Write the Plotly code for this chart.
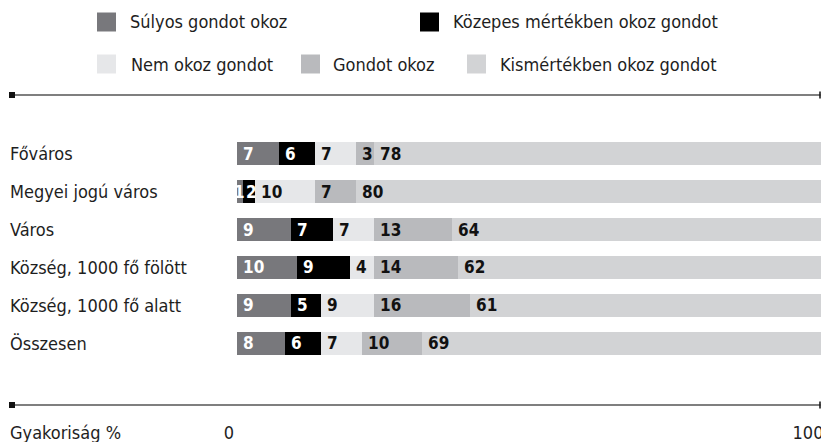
import plotly.graph_objects as go

categories = ["Főváros", "Megyei jogú város", "Város", "Község, 1000 fő fölött",
              "Község, 1000 fő alatt", "Összesen"]
series_names = ["Súlyos gondot okoz", "Közepes mértékben okoz gondot", "Nem okoz gondot",
                "Gondot okoz", "Kismértékben okoz gondot"]
sulyos = [7, 1, 9, 10, 9, 8]
kozepes = [6, 2, 7, 9, 5, 6]
nem_okoz = [7, 10, 7, 4, 9, 7]
gondot = [3, 7, 13, 14, 16, 10]
kismertek = [78, 80, 64, 62, 61, 69]
tick_values = [0, 100]
tick_labels = ["0", "100"]
axis_label = "Gyakoriság %"

series_values = [sulyos, kozepes, nem_okoz, gondot, kismertek]
colors = ["#78787c", "#000000", "#e6e7e9", "#b9babd", "#d2d3d5"]
label_colors = ["#ffffff", "#ffffff", "#111111", "#111111", "#111111"]
# legend layout (pixels): square left x, text left x, row centre y
legend_pos = [(97, 130, 22), (420, 453, 22), (97, 131, 64), (301, 333, 64), (467, 500, 64)]

FONT = "DejaVu Sans Condensed, Liberation Sans Narrow, Arial Narrow, sans-serif"
TXT = "#1e1e1e"
FS = 18

W, H = 821, 442
ML, MR, MT, MB = 229, 0, 135, 80
PW = W - ML - MR
PH = H - MT - MB

BAR_PX_PER_UNIT = 5.97
BAR_ZERO_PX = 237
x_min = -(BAR_ZERO_PX - ML) / BAR_PX_PER_UNIT
x_max = x_min + PW / BAR_PX_PER_UNIT
LAB_PX_PER_UNIT = 5.79
x2_max = PW / LAB_PX_PER_UNIT


def px_x(px):
    return (px - ML) / PW


def px_y(py):
    return (H - MB - py) / PH


fig = go.Figure()
for name, vals, col in zip(series_names, series_values, colors):
    fig.add_trace(go.Bar(
        y=categories, x=vals, name=name, orientation="h",
        marker=dict(color=col, line=dict(width=0)),
        hoverinfo="skip", showlegend=False))

# invisible trace carrying the percentage scale labels
fig.add_trace(go.Scatter(x=tick_values, y=[categories[0]] * 2, xaxis="x2", mode="markers",
                         marker=dict(opacity=0), hoverinfo="skip", showlegend=False))

annotations = []
cum = [0] * len(categories)
for vals, lc in zip(series_values, label_colors):
    for i, (c, v) in enumerate(zip(categories, vals)):
        seg_px = v * BAR_PX_PER_UNIT
        if seg_px < 8:
            pos = dict(x=cum[i] + v / 2, xanchor="center", xshift=0)
        elif seg_px < 14:
            pos = dict(x=cum[i], xanchor="left", xshift=2.5)
        else:
            pos = dict(x=cum[i], xanchor="left", xshift=5)
        annotations.append(dict(
            y=c, xref="x", yref="y", text="<b>%d</b>" % v,
            showarrow=False, yanchor="middle", borderpad=0,
            font=dict(family=FONT, size=17, color=lc), **pos))
        cum[i] += v

for c in categories:
    annotations.append(dict(
        x=px_x(8), y=c, xref="paper", yref="y", text=c, showarrow=False,
        xanchor="left", yanchor="middle", font=dict(family=FONT, size=FS, color=TXT)))

annotations.append(dict(
    x=px_x(8), y=px_y(432), xref="paper", yref="paper", text=axis_label,
    showarrow=False, xanchor="left", yanchor="middle",
    font=dict(family=FONT, size=FS, color=TXT)))

shapes = []
# manual legend
for name, col, (sx, tx, cy) in zip(series_names, colors, legend_pos):
    shapes.append(dict(type="rect", xref="paper", yref="paper",
                       x0=px_x(sx), x1=px_x(sx + 19), y0=px_y(cy - 9.5), y1=px_y(cy + 9.5),
                       fillcolor=col, line=dict(width=0)))
    annotations.append(dict(
        x=px_x(tx - 2), y=px_y(cy), xref="paper", yref="paper", text=name,
        showarrow=False, xanchor="left", yanchor="middle",
        font=dict(family=FONT, size=FS, color=TXT)))

for ly in (95, 405):
    shapes.append(dict(type="line", xref="paper", yref="paper",
                       x0=px_x(14), x1=px_x(820.5), y0=px_y(ly), y1=px_y(ly),
                       line=dict(color="#555555", width=1.6)))
    shapes.append(dict(type="rect", xref="paper", yref="paper",
                       x0=px_x(9), x1=px_x(15), y0=px_y(ly - 3), y1=px_y(ly + 3),
                       fillcolor="#111111", line=dict(width=0)))
    shapes.append(dict(type="line", xref="paper", yref="paper",
                       x0=px_x(820), x1=px_x(820), y0=px_y(ly - 3.5), y1=px_y(ly + 3.5),
                       line=dict(color="#111111", width=1.5)))

fig.update_layout(
    width=W, height=H, autosize=False,
    margin=dict(l=ML, r=MR, t=MT, b=MB, pad=0),
    paper_bgcolor="white", plot_bgcolor="white",
    barmode="stack", bargap=0.392,
    font=dict(family=FONT, size=FS, color=TXT),
    showlegend=False,
    xaxis=dict(range=[x_min, x_max], showticklabels=False, ticks="",
               showgrid=False, zeroline=False, showline=False,
               automargin=False, fixedrange=True),
    xaxis2=dict(overlaying="x", side="bottom", anchor="y", range=[0, x2_max],
                tickvals=tick_values, ticktext=tick_labels,
                ticks="outside", ticklen=54, tickcolor="rgba(0,0,0,0)",
                ticklabeloverflow="allow",
                showgrid=False, zeroline=False, showline=False,
                tickfont=dict(family=FONT, size=FS, color=TXT),
                automargin=False, fixedrange=True),
    yaxis=dict(categoryorder="array", categoryarray=categories,
               range=[len(categories) - 0.5, -0.5], showticklabels=False,
               showgrid=False, zeroline=False, showline=False, ticks="",
               automargin=False, fixedrange=True),
    annotations=annotations, shapes=shapes,
)

page_fix = ("document.documentElement.style.margin='0';document.body.style.margin='0';"
            "document.documentElement.style.overflow='hidden';document.body.style.overflow='hidden';")
fig.write_html("out.html", config={"displayModeBar": False}, post_script=page_fix)
